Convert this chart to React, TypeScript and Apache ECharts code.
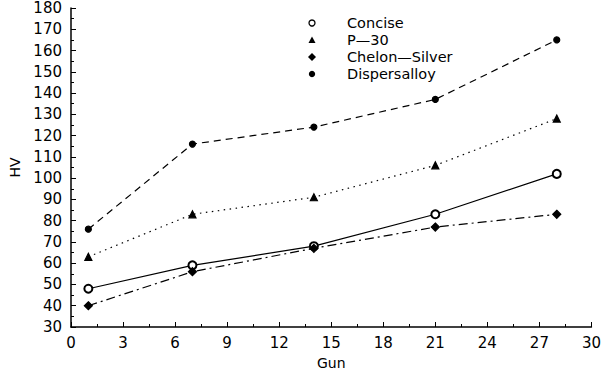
import React, { useEffect, useRef } from "react";
import * as echarts from "echarts";

const xValues = [1, 7, 14, 21, 28];
const concise = [48, 59, 68, 83, 102];
const p30 = [63, 83, 91, 106, 128];
const chelonSilver = [40, 56, 67, 77, 83];
const dispersalloy = [76, 116, 124, 137, 165];
const seriesNames = ["Concise", "P\u201430", "Chelon\u2014Silver", "Dispersalloy"];

const FONT = "DejaVu Sans";

export default function App() {
  const ref = useRef<HTMLDivElement>(null);
  useEffect(() => {
    if (!ref.current) return;
    const chart = echarts.init(ref.current, undefined, { renderer: "svg" });
    const pairs = (ys: number[]) => xValues.map((x, i) => [x, ys[i]]);
    const lineBase = (name: string, ys: number[], symbol: string, size: number, dash: any) => ({
      name,
      type: "line",
      data: pairs(ys),
      symbol,
      symbolSize: size,
      showSymbol: true,
      lineStyle: { color: "#000", width: 1.2, type: dash },
      itemStyle: { color: "#000", borderColor: "#000", borderWidth: 1.2 },
      z: 3,
    });
    const lx = 312;
    const tx = 347;
    const rows = [23, 40, 57, 74];
    const legendMarks: any[] = [
      { type: "circle", shape: { cx: lx, cy: rows[0], r: 3 }, style: { fill: "#fff", stroke: "#000", lineWidth: 1.3 } },
      { type: "polygon", shape: { points: [[lx, rows[1] - 3.5], [lx + 3.5, rows[1] + 3], [lx - 3.5, rows[1] + 3]] }, style: { fill: "#000" } },
      { type: "polygon", shape: { points: [[lx, rows[2] - 4], [lx + 4, rows[2]], [lx, rows[2] + 4], [lx - 4, rows[2]]] }, style: { fill: "#000" } },
      { type: "circle", shape: { cx: lx, cy: rows[3], r: 3.2 }, style: { fill: "#000" } },
    ];
    const legendTexts = seriesNames.map((n, i) => ({
      type: "text",
      x: tx,
      y: rows[i],
      style: { text: n, font: `14.5px "${FONT}"`, fill: "#000", verticalAlign: "middle" },
    }));
    chart.setOption({
      animation: false,
      backgroundColor: "#fff",
      grid: { left: 71, right: 10, top: 8, bottom: 48 },
      graphic: [...legendMarks, ...legendTexts],
      xAxis: {
        type: "value",
        min: 0,
        max: 30,
        interval: 3,
        name: "Gun",
        nameLocation: "middle",
        nameGap: 29,
        nameTextStyle: { fontFamily: FONT, fontSize: 14, color: "#000" },
        axisLine: { lineStyle: { color: "#000", width: 1.5 } },
        axisTick: { inside: true, length: 5, lineStyle: { color: "#000" } },
        minorTick: { show: true, splitNumber: 2, length: 3, lineStyle: { color: "#000" } },
        axisLabel: { fontFamily: FONT, fontSize: 15, color: "#000", margin: 8 },
        splitLine: { show: false },
      },
      yAxis: {
        type: "value",
        min: 30,
        max: 180,
        interval: 10,
        name: "HV",
        nameLocation: "middle",
        nameGap: 49,
        nameTextStyle: { fontFamily: FONT, fontSize: 14, color: "#000" },
        axisLine: { show: true, lineStyle: { color: "#000", width: 1.5 } },
        axisTick: { show: true, inside: true, length: 5, lineStyle: { color: "#000" } },
        minorTick: { show: true, splitNumber: 2, length: 3, lineStyle: { color: "#000" } },
        axisLabel: { fontFamily: FONT, fontSize: 15, color: "#000", margin: 9 },
        splitLine: { show: false },
      },
      series: [
        lineBase(seriesNames[0], concise, "emptyCircle", 8, "solid"),
        lineBase(seriesNames[1], p30, "triangle", 7, [1.5, 4.5]),
        lineBase(seriesNames[2], chelonSilver, "diamond", 8, [9, 4, 2, 4]),
        lineBase(seriesNames[3], dispersalloy, "circle", 6, [7, 5]),
      ],
    });
    return () => chart.dispose();
  }, []);
  return <div ref={ref} style={{ width: 604, height: 375, position: "absolute", left: 0, top: 0 }} />;
}
